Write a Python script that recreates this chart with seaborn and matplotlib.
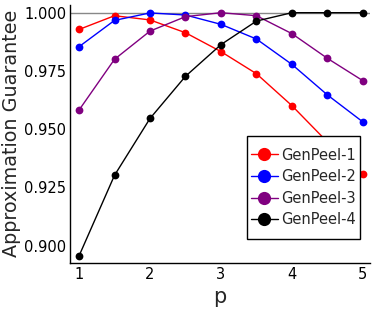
import matplotlib
matplotlib.use("Agg")
import matplotlib.pyplot as plt
import seaborn as sns
import pandas as pd
import numpy as np
from matplotlib.lines import Line2D
from matplotlib.patches import Rectangle

p_values = [1.0, 1.5, 2.0, 2.5, 3.0, 3.5, 4.0, 4.5, 5.0]
genpeel1 = [0.9928, 0.9987, 0.9969, 0.9914, 0.9833, 0.9738, 0.9601, 0.9445, 0.9308]
genpeel2 = [0.9854, 0.9967, 0.9999, 0.9990, 0.9950, 0.9887, 0.9778, 0.9647, 0.9531]
genpeel3 = [0.9582, 0.9800, 0.9921, 0.9983, 1.0000, 0.9987, 0.9910, 0.9804, 0.9708]
genpeel4 = [0.8956, 0.9302, 0.9546, 0.9727, 0.9863, 0.9964, 1.0000, 1.0000, 1.0000]
series_names = ["GenPeel-1", "GenPeel-2", "GenPeel-3", "GenPeel-4"]
colors = ["#ff0000", "#0000ff", "#800080", "#000000"]
x_ticks = [1, 2, 3, 4, 5]
y_ticks = [0.900, 0.925, 0.950, 0.975, 1.000]

rows = []
for name, vals in zip(series_names, [genpeel1, genpeel2, genpeel3, genpeel4]):
    for p, v in zip(p_values, vals):
        rows.append({"p": p, "value": v, "series": name})
df = pd.DataFrame(rows)

sns.set_style("white")
plt.rcParams["font.family"] = ["DejaVu Sans"]

W, H = 374, 313
fig = plt.figure(figsize=(W / 100, H / 100), dpi=100)
L, R, T, B = 70.3, 370, 5, 262.7
ax = fig.add_axes([L / W, 1 - B / H, (R - L) / W, (B - T) / H])

ax.axhline(1.0, color="#888888", lw=1.0, zorder=1)
sns.lineplot(data=df, x="p", y="value", hue="series", hue_order=series_names,
             palette=colors, marker="o", markersize=5.6, markeredgewidth=0,
             linewidth=1.0, ax=ax, legend=False, zorder=3)

ax.set_xlim(0.877, 5.10)
ax.set_ylim(0.8927, 1.0033)
ax.set_xticks(x_ticks)
ax.set_xticklabels([str(t) for t in x_ticks])
ax.set_yticks(y_ticks)
ax.set_yticklabels([f"{t:.3f}" for t in y_ticks])
ax.tick_params(axis="both", direction="in", length=3, width=0.8, labelsize=10.5,
               colors="black", pad=3)
for s in ["top", "right"]:
    ax.spines[s].set_visible(False)
for s in ["left", "bottom"]:
    ax.spines[s].set_color("black")
    ax.spines[s].set_linewidth(1.0)

ax.set_xlabel("p", fontsize=15, labelpad=4)
ax.set_ylabel("Approximation Guarantee", fontsize=13.8, labelpad=2)

# legend box (frame drawn separately for independent horizontal/vertical padding)
lx0, lx1, ly0, ly1 = 246.7, 360, 136, 238.7
frame = Rectangle((lx0 / W, 1 - ly1 / H), (lx1 - lx0) / W, (ly1 - ly0) / H,
                  transform=fig.transFigure, facecolor="white", edgecolor="black",
                  linewidth=1.0, zorder=10)
fig.add_artist(frame)

handles = [Line2D([], [], color=c, marker="o", markersize=9.5, markeredgewidth=0, lw=1.0)
           for c in colors]
leg = fig.legend(handles, series_names, loc="center",
                 bbox_to_anchor=((lx0 + lx1) / 2 / W, 1 - (ly0 + ly1) / 2 / H),
                 fontsize=10.5, frameon=False, handlelength=1.9,
                 handletextpad=0.2, borderpad=0.0, labelspacing=0.45, borderaxespad=0)
leg.set_zorder(11)

fig.savefig("out.png", dpi=100)
